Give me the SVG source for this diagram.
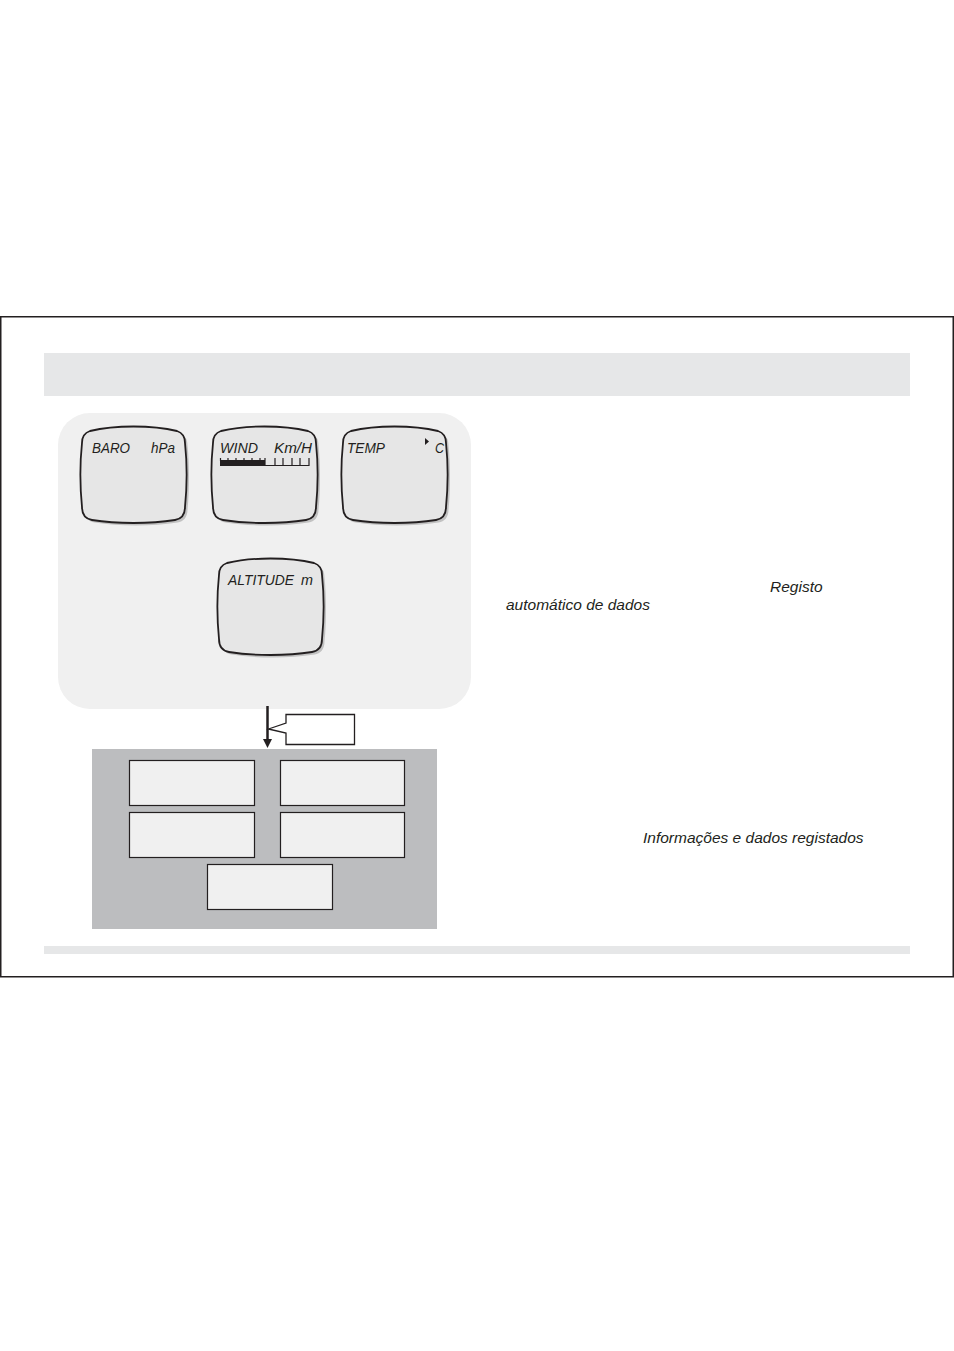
<svg xmlns="http://www.w3.org/2000/svg" xmlns:xlink="http://www.w3.org/1999/xlink" width="954" height="1351" viewBox="0 0 954 1351">
<style>
.lcd{fill:#e6e6e6;stroke:#231f20;stroke-width:1.8}
.shadow{fill:#8a8a8a;opacity:0.45}
.lbl{font-family:"Liberation Sans",Arial,sans-serif;font-style:italic;font-size:15.5px;fill:#231f20}
.txt{font-family:"Liberation Sans",Arial,sans-serif;font-style:italic;font-size:15.5px;fill:#231f20}
.box{fill:#f0f0f0;stroke:#231f20;stroke-width:1.2}
</style>
<defs>
<path id="disp" d="M10,4 C35,-2 72,-2 97,4 C103,6 105,10 105,16 C107,35 107,60 105,80 C105,88 101,92 95,93 C70,97 37,97 12,93 C6,92 2,88 2,80 C0,60 0,35 2,16 C2,10 4,6 10,4 Z"/>
</defs>
<rect width="954" height="1351" fill="#ffffff"/>
<rect x="0.75" y="316.75" width="952.5" height="660" fill="none" stroke="#231f20" stroke-width="1.5"/>
<rect x="44" y="353" width="866" height="43" fill="#e6e7e8"/>
<rect x="44" y="946" width="866" height="8" fill="#e6e7e8"/>
<g id="panel">
<rect x="58" y="413" width="413" height="296" rx="32" ry="32" fill="#f0f0f0"/>
</g>
<g id="baro" transform="translate(80,427)">
<use xlink:href="#disp" class="shadow" transform="translate(2.5,2.5)"/>
<use xlink:href="#disp" class="lcd"/>
<text class="lbl" x="12" y="26" textLength="38" lengthAdjust="spacingAndGlyphs">BARO</text>
<text class="lbl" x="71" y="26" textLength="24" lengthAdjust="spacingAndGlyphs">hPa</text>
</g>
<g id="wind" transform="translate(211,427)">
<use xlink:href="#disp" class="shadow" transform="translate(2.5,2.5)"/>
<use xlink:href="#disp" class="lcd"/>
<text class="lbl" x="9" y="26" textLength="38" lengthAdjust="spacingAndGlyphs">WIND</text>
<text class="lbl" x="63" y="26" textLength="38" lengthAdjust="spacingAndGlyphs">Km/H</text>
<rect x="9" y="33" width="45" height="6" fill="#231f20"/>
<g stroke="#231f20" stroke-width="1.2" fill="none">
<path d="M9.5,31 V34 M17,31 V34 M25,31 V34 M33,31 V34 M41,31 V34 M49,31 V34"/>
<path d="M54,38.5 H98.5 M54,31 V39 M64,31 V39 M72,31 V39 M81,31 V39 M89,31 V39 M98,31 V39"/>
</g>
</g>
<g id="temp" transform="translate(341,427)">
<use xlink:href="#disp" class="shadow" transform="translate(2.5,2.5)"/>
<use xlink:href="#disp" class="lcd"/>
<text class="lbl" x="6" y="26" textLength="38" lengthAdjust="spacingAndGlyphs">TEMP</text>
<path d="M84,11 L88,14.5 L84,18 Z" fill="#231f20"/>
<text class="lbl" x="94" y="26" textLength="9" lengthAdjust="spacingAndGlyphs">C</text>
</g>
<g id="altitude" transform="translate(217,559)">
<use xlink:href="#disp" class="shadow" transform="translate(2.5,2.5)"/>
<use xlink:href="#disp" class="lcd"/>
<text class="lbl" x="11" y="26" textLength="66" lengthAdjust="spacingAndGlyphs">ALTITUDE</text>
<text class="lbl" x="84" y="26" textLength="12" lengthAdjust="spacingAndGlyphs">m</text>
</g>
<g id="connectors">
<line x1="267.5" y1="706" x2="267.5" y2="740" stroke="#231f20" stroke-width="2.5"/>
<path d="M263,739 L272,739 L267.5,748 Z" fill="#231f20"/>
</g>
<g id="callout">
<path d="M286,714.5 H354.5 V744.5 H286 V733 L268.5,729 L286,723 Z" fill="#ffffff" stroke="#231f20" stroke-width="1.3"/>
</g>
<g id="storage">
<rect x="92" y="749" width="345" height="180" fill="#bcbdbf"/>
</g>
<g id="box1"><rect class="box" x="129.5" y="760.5" width="125" height="45"/></g>
<g id="box2"><rect class="box" x="280.5" y="760.5" width="124" height="45"/></g>
<g id="box3"><rect class="box" x="129.5" y="812.5" width="125" height="45"/></g>
<g id="box4"><rect class="box" x="280.5" y="812.5" width="124" height="45"/></g>
<g id="box5"><rect class="box" x="207.5" y="864.5" width="125" height="45"/></g>
<g id="texts">
<text class="txt" x="770" y="592">Registo</text>
<text class="txt" x="506" y="610">automático de dados</text>
<text class="txt" x="643" y="843">Informações e dados registados</text>
</g>
</svg>
